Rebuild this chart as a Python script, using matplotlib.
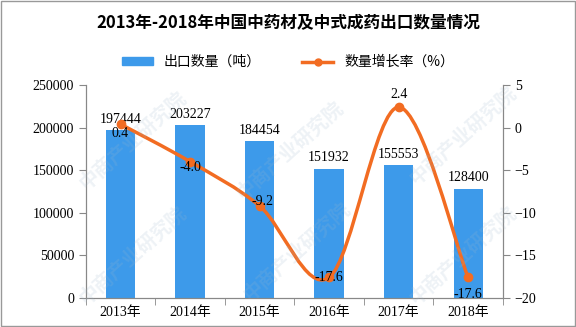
import numpy as np
import matplotlib.pyplot as plt
from matplotlib.path import Path
from matplotlib.patches import PathPatch, Rectangle
from matplotlib.lines import Line2D

years = ['2013年', '2014年', '2015年', '2016年', '2017年', '2018年']
export_volume = [197444, 203227, 184454, 151932, 155553, 128400]
growth_rate = [0.4, -4.0, -9.2, -17.6, 2.4, -17.6]

bar_color = '#3D9AEA'
line_color = '#F26C22'
cjk = ['Noto Sans CJK SC', 'DejaVu Sans']
num_font = ['Liberation Serif', 'Noto Sans CJK SC']

fig = plt.figure(figsize=(5.76, 3.27), dpi=100)
ax = fig.add_axes([0.149, 0.089, 0.724, 0.651])
ax2 = ax.twinx()

x = np.arange(len(years))
bars = ax.bar(x, export_volume, width=0.42, color=bar_color, zorder=2)
for xi, v in zip(x, export_volume):
    ax.annotate(str(v), (xi, v), xytext=(0, 3), textcoords='offset points',
                ha='center', va='bottom', fontsize=10, family=num_font)

ax.set_xlim(-0.5, len(years) - 0.5)
ax.set_ylim(0, 250000)
ax.set_yticks(np.arange(0, 250001, 50000))
ax.set_xticks(x)
ax.set_xticklabels(years, family=num_font, fontsize=10)
ax.set_xticks(np.arange(-0.5, len(years)), minor=True)
ax.tick_params(axis='x', which='major', length=0, pad=6)
ax.tick_params(axis='x', which='minor', length=5, color='#888888')
ax.tick_params(axis='y', length=5, color='#888888', labelsize=10)
for lab in ax.get_yticklabels():
    lab.set_family(num_font)

# smooth growth curve through the points (Catmull-Rom as cubic Bezier)
pts = np.column_stack([x, growth_rate]).astype(float)
verts = [pts[0]]
codes = [Path.MOVETO]
for i in range(len(pts) - 1):
    p0 = pts[max(i - 1, 0)]
    p1 = pts[i]
    p2 = pts[i + 1]
    p3 = pts[min(i + 2, len(pts) - 1)]
    c1 = p1 + (p2 - p0) / 6
    c2 = p2 - (p3 - p1) / 6
    verts += [c1, c2, p2]
    codes += [Path.CURVE4] * 3
ax2.add_patch(PathPatch(Path(verts, codes), fill=False, edgecolor=line_color,
                        lw=2.5, zorder=3, capstyle='round'))
ax2.plot(x, growth_rate, 'o', color=line_color, ms=6, zorder=4)

label_offsets = [(0, -7), (0, -4), (2, 3), (0, 0), (0, 9), (0, -12)]
for xi, r, off in zip(x, growth_rate, label_offsets):
    ax2.annotate(f'{r:.1f}', (xi, r), xytext=off, textcoords='offset points',
                 ha='center', va='center', fontsize=10, family=num_font, zorder=5)

ax2.set_ylim(-20, 5)
ax2.set_yticks(np.arange(-20, 6, 5))
ax2.tick_params(axis='y', length=5, color='#888888', labelsize=10)
for lab in ax2.get_yticklabels():
    lab.set_family(num_font)

for a in (ax, ax2):
    a.spines['top'].set_visible(False)
    for s in ('left', 'right', 'bottom'):
        a.spines[s].set_color('#888888')
ax.set_zorder(ax2.get_zorder() - 1)
ax.patch.set_visible(True)
ax2.patch.set_visible(False)

fig.text(0.5, 0.93, '2013年-2018年中国中药材及中式成药出口数量情况', ha='center',
         va='center', fontsize=12, fontweight='bold', family=cjk)

# legend
handles = [Rectangle((0, 0), 1, 1, color=bar_color),
           Line2D([], [], color=line_color, lw=2.5, marker='o', ms=5)]
fig.legend(handles, ['出口数量（吨）', '数量增长率（%）'], loc='center',
           bbox_to_anchor=(0.5, 0.81), ncol=2, frameon=False,
           prop={'family': cjk, 'size': 10}, handlelength=2.2,
           handleheight=0.5, columnspacing=3)

# faint watermark
for wx, wy in [(133, 140), (290, 150), (463, 135), (133, 255), (297, 251),
               (463, 255)]:
    fig.text(wx / 576, 1 - wy / 327, '中商产业研究院', rotation=42, ha='center',
             va='center', fontsize=14, color='#9fb8cc', alpha=0.18,
             family=cjk, fontweight='bold', zorder=10)

fig.patches.append(Rectangle((0.001, 0.002), 0.997, 0.995, transform=fig.transFigure,
                             fill=False, edgecolor='#999999', lw=1))

fig.savefig('out.png', dpi=100)
